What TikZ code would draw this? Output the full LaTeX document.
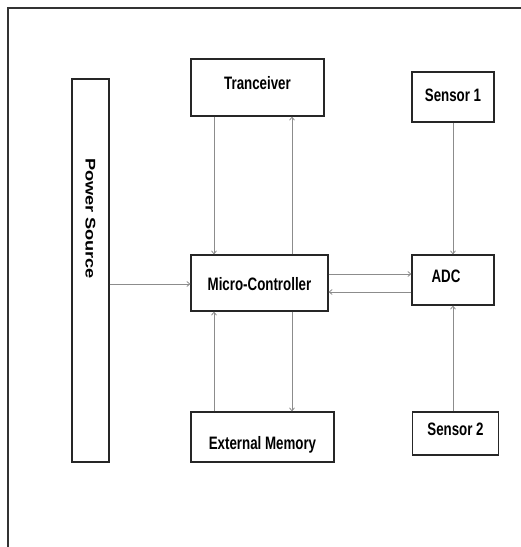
\documentclass[tikz,border=0pt]{standalone}
\usepackage{fontspec}
\newfontfamily\blkfont{Liberation Sans}[FakeStretch=0.74]
\newfontfamily\pwrfont{Liberation Sans}[FakeStretch=1.3]
\usetikzlibrary{arrows.meta}

\begin{document}
\begin{tikzpicture}[
			x=1pt,y=-1pt,
			blk/.style={draw=black!85,line width=1.2pt,inner sep=0pt,
				font=\blkfont\bfseries\fontsize{18}{20}\selectfont,
				text height=13pt,text depth=0pt},
			link/.style={draw=black!45,line width=0.8pt,
				-{Straight Barb[length=3pt,width=5pt]}}
			]
			\useasboundingbox (0,0) rectangle (521,547);
			\draw[black!80,line width=1.5pt] (8,547) -- (8,8) -- (521,8);

			% blocks
			\node[blk,rotate=-90,minimum width=383pt,minimum height=37pt,
				text width=383pt,align=left,text height=10pt,
				font=\pwrfont\bfseries\fontsize{14}{16}\selectfont]
				(pwr) at (90.5,270.5) {\hspace*{79pt}Power Source};
			\node[blk,minimum width=133pt,minimum height=57pt,text depth=9pt]
				(trx) at (257.5,87.5) {Tranceiver};
			\node[blk,minimum width=82pt,minimum height=50pt,text depth=4pt]
				(sen1) at (453,97) {Sensor 1};
			\node[blk,minimum width=137pt,minimum height=56pt,text height=15pt]
				(mcu) at (259.5,283) {Micro-Controller};
			\node[blk,minimum width=82pt,minimum height=50pt,text depth=8pt]
				(adc) at (453,280) {ADC\hspace*{14pt}};
			\node[blk,minimum width=143pt,minimum height=50pt,text height=25pt]
				(mem) at (262.5,437) {External Memory};
			\node[blk,minimum width=86pt,minimum height=43pt,text depth=9pt]
				(sen2) at (455.5,433.5) {Sensor 2};

			% connections
			\draw[link] (trx.south -| 214,0) -- (mcu.north -| 214,0);
			\draw[link] (mcu.north -| 292,0) -- (trx.south -| 292,0);
			\draw[link] (mem.north -| 214,0) -- (mcu.south -| 214,0);
			\draw[link] (mcu.south -| 292,0) -- (mem.north -| 292,0);
			\draw[link] (pwr.north |- 0,284) -- (mcu.west |- 0,284);
			\draw[link] (mcu.east |- 0,274) -- (adc.west |- 0,274);
			\draw[link] (adc.west |- 0,292) -- (mcu.east |- 0,292);
			\draw[link] (sen1.south) -- (adc.north);
			\draw[link] (sen2.north -| adc.south) -- (adc.south);
		\end{tikzpicture}
\end{document}
